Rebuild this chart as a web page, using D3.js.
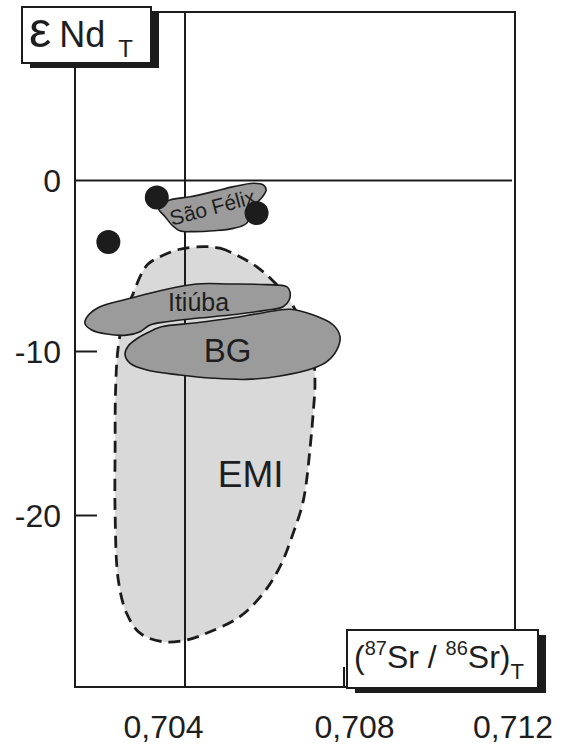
<!DOCTYPE html>
<html>
<head>
<meta charset="utf-8">
<script src="https://cdn.jsdelivr.net/npm/d3@7"></script>
<style>
  html, body { margin: 0; padding: 0; background: #fff; }
  text { font-family: "Liberation Sans", Arial, Helvetica, sans-serif; fill: #1e1e1e; }
</style>
</head>
<body>
<script>
// ---- data: (87Sr/86Sr)T vs εNdT ----
const xTicks = [0.704, 0.708, 0.712];
const xTickLabels = ["0,704", "0,708", "0,712"];
const yTicks = [0, -10, -20];
const yTickLabels = ["0", "-10", "-20"];

// samples
const sampleSr = [0.70329, 0.70580, 0.70207];
const sampleNd = [-1.0, -1.9, -3.6];

// field outlines [Sr, Nd]
const emiField = [
  [0.70446, -3.87], [0.70488, -3.96], [0.70538, -4.46], [0.70580, -5.04],
  [0.70619, -5.82], [0.70657, -6.81], [0.70697, -8.45], [0.70722, -10.21],
  [0.70727, -12.04], [0.70723, -13.57], [0.70715, -15.80], [0.70698, -19.05],
  [0.70672, -21.09], [0.70639, -23.12], [0.70597, -24.74], [0.70538, -26.17],
  [0.70463, -27.09], [0.70404, -27.59], [0.70345, -27.70], [0.70287, -27.18],
  [0.70253, -25.96], [0.70232, -23.93], [0.70224, -19.87], [0.70224, -15.80],
  [0.70225, -12.53], [0.70231, -9.91], [0.70247, -7.87], [0.70266, -6.80],
  [0.70291, -5.43], [0.70307, -4.88], [0.70337, -4.46], [0.70387, -4.02]
];
const itiubaField = [
  [0.70656, -6.21], [0.70606, -6.09], [0.70513, -6.05], [0.70429, -6.05],
  [0.70345, -6.40], [0.70262, -6.89], [0.70186, -7.38], [0.70157, -7.87],
  [0.70148, -8.35], [0.70165, -8.74], [0.70203, -8.98], [0.70253, -9.04],
  [0.70287, -8.84], [0.70312, -8.45], [0.70354, -8.26], [0.70429, -8.06],
  [0.70513, -7.87], [0.70597, -7.61], [0.70647, -7.38], [0.70662, -6.99],
  [0.70664, -6.50]
];
const bgField = [
  [0.70341, -8.55], [0.70429, -8.32], [0.70513, -8.06], [0.70597, -7.73],
  [0.70664, -7.53], [0.70723, -7.87], [0.70773, -8.45], [0.70790, -9.13],
  [0.70782, -9.91], [0.70757, -10.62], [0.70723, -11.02], [0.70639, -11.49],
  [0.70555, -11.70], [0.70471, -11.63], [0.70387, -11.43], [0.70304, -11.13],
  [0.70262, -10.72], [0.70249, -10.21], [0.70257, -9.68], [0.70287, -9.13],
  [0.70320, -8.74]
];
const saoFelixField = [
  [0.70333, -1.53], [0.70362, -1.14], [0.70413, -0.95], [0.70471, -0.65],
  [0.70522, -0.36], [0.70572, -0.16], [0.70597, -0.26], [0.70604, -0.56],
  [0.70595, -0.95], [0.70572, -1.53], [0.70555, -2.50], [0.70522, -2.80],
  [0.70471, -2.94], [0.70421, -2.99], [0.70387, -2.94], [0.70367, -2.60],
  [0.70350, -2.12], [0.70335, -1.73]
];
// field names and label anchor points [Sr, Nd]
const fieldNames = ["São Félix", "Itiúba", "BG", "EMI"];
const fieldLabelAt = [[0.70469, -1.55], [0.70434, -7.13], [0.70507, -9.91], [0.70565, -17.44]];

// ---- chart ----
const W = 566, H = 744;
const svg = d3.select("body").append("svg").attr("width", W).attr("height", H);

// hand-drawn axis: piecewise linear scales through the tick positions
const x = d3.scaleLinear()
  .domain([0.70123, 0.704, 0.708, 0.712])
  .range([75, 185, 344, 515]);
const y = d3.scaleLinear()
  .domain([9.85, 0, -10, -20, -30.46])
  .range([12, 180.5, 351.5, 515.5, 687]);

const [x0, x1] = [x.range()[0], x.range()[x.range().length - 1]];
const [yTop, yBot] = [y.range()[0], y.range()[y.range().length - 1]];
const ink = "#1c1c1c";

const outline = d3.line()
  .x(d => x(d[0])).y(d => y(d[1]))
  .curve(d3.curveCatmullRomClosed.alpha(0.5));

// EM I field
svg.append("path").attr("d", outline(emiField))
  .attr("fill", "#d9d9d9").attr("stroke", "none");
svg.append("path").attr("d", outline(emiField))
  .attr("fill", "none").attr("stroke", ink)
  .attr("stroke-width", 2.8).attr("stroke-dasharray", "12,7");

// frame
svg.append("rect")
  .attr("x", x0).attr("y", yTop)
  .attr("width", x1 - x0).attr("height", yBot - yTop)
  .attr("fill", "none").attr("stroke", ink).attr("stroke-width", 2);

// reference lines: εNd = 0 and Sr = 0.704
svg.append("line")
  .attr("x1", x0).attr("x2", x1 - 3)
  .attr("y1", y(0)).attr("y2", y(0))
  .attr("stroke", ink).attr("stroke-width", 2);
svg.append("line")
  .attr("x1", x(0.704)).attr("x2", x(0.704))
  .attr("y1", yTop).attr("y2", yBot)
  .attr("stroke", ink).attr("stroke-width", 2);

// y ticks (inward)
svg.selectAll(".ytick").data(yTicks.filter(v => v !== 0)).enter()
  .append("line")
  .attr("x1", x0).attr("x2", x0 + 22)
  .attr("y1", d => y(d)).attr("y2", d => y(d))
  .attr("stroke", ink).attr("stroke-width", 2);
// x tick at 0.708 (upward)
svg.append("line")
  .attr("x1", x(0.708)).attr("x2", x(0.708))
  .attr("y1", yBot).attr("y2", yBot - 20)
  .attr("stroke", ink).attr("stroke-width", 2);

// y tick labels
svg.selectAll(".ylab").data(yTicks).enter()
  .append("text")
  .attr("x", x0 - 14).attr("y", d => y(d)).attr("dy", "0.36em")
  .attr("text-anchor", "end").attr("font-size", 32)
  .text((d, i) => yTickLabels[i]);

// x tick labels
const xLabelShift = [-21.5, 10.5, -2];
svg.selectAll(".xlab").data(xTicks).enter()
  .append("text")
  .attr("x", (d, i) => x(d) + xLabelShift[i]).attr("y", yBot + 51)
  .attr("text-anchor", "middle").attr("font-size", 32)
  .text((d, i) => xTickLabels[i]);

// granite fields
const fieldStyle = sel => sel.attr("fill", "#9b9b9b").attr("stroke", ink).attr("stroke-width", 1.6);
svg.append("path").attr("d", outline(itiubaField)).call(fieldStyle);
svg.append("path").attr("d", outline(bgField)).call(fieldStyle);
svg.append("path").attr("d", outline(saoFelixField)).call(fieldStyle);

// samples
svg.selectAll(".sample").data(sampleSr).enter()
  .append("circle")
  .attr("cx", d => x(d)).attr("cy", (d, i) => y(sampleNd[i]))
  .attr("r", 12).attr("fill", ink);

// field names
const fieldFont = [21, 25, 33, 37];
const fieldRotate = [-15, 0, 0, 0];
svg.selectAll(".fname").data(fieldNames).enter()
  .append("text")
  .attr("transform", (d, i) => `translate(${x(fieldLabelAt[i][0])},${y(fieldLabelAt[i][1])}) rotate(${fieldRotate[i]})`)
  .attr("dy", "0.36em")
  .attr("text-anchor", "middle")
  .attr("font-size", (d, i) => fieldFont[i])
  .text(d => d);

// boxed axis titles with drop shadow
function titleBox(bx, by, bw, bh) {
  svg.append("rect").attr("x", bx + 8).attr("y", by + 5)
    .attr("width", bw).attr("height", bh).attr("fill", ink);
  svg.append("rect").attr("x", bx).attr("y", by)
    .attr("width", bw).attr("height", bh)
    .attr("fill", "#fff").attr("stroke", ink).attr("stroke-width", 2);
}

titleBox(22, 7, 129, 56);
const yTitle = svg.append("text").attr("x", 29).attr("y", 47);
yTitle.append("tspan").attr("font-size", 50).text("ε");
yTitle.append("tspan").attr("font-size", 36).attr("dx", 8).text("Nd");
yTitle.append("tspan").attr("font-size", 24).attr("dx", 13).attr("dy", 10).text("T");

titleBox(347, 630, 191, 58);
const xTitle = svg.append("text").attr("x", 354).attr("y", 668).attr("font-size", 32);
xTitle.append("tspan").text("(");
xTitle.append("tspan").attr("font-size", 20).attr("dy", -13).text("87");
xTitle.append("tspan").attr("dy", 13).text("Sr / ");
xTitle.append("tspan").attr("font-size", 20).attr("dy", -13).text("86");
xTitle.append("tspan").attr("dy", 13).text("Sr)");
xTitle.append("tspan").attr("font-size", 22).attr("dy", 11).text("T");
</script>
</body>
</html>
